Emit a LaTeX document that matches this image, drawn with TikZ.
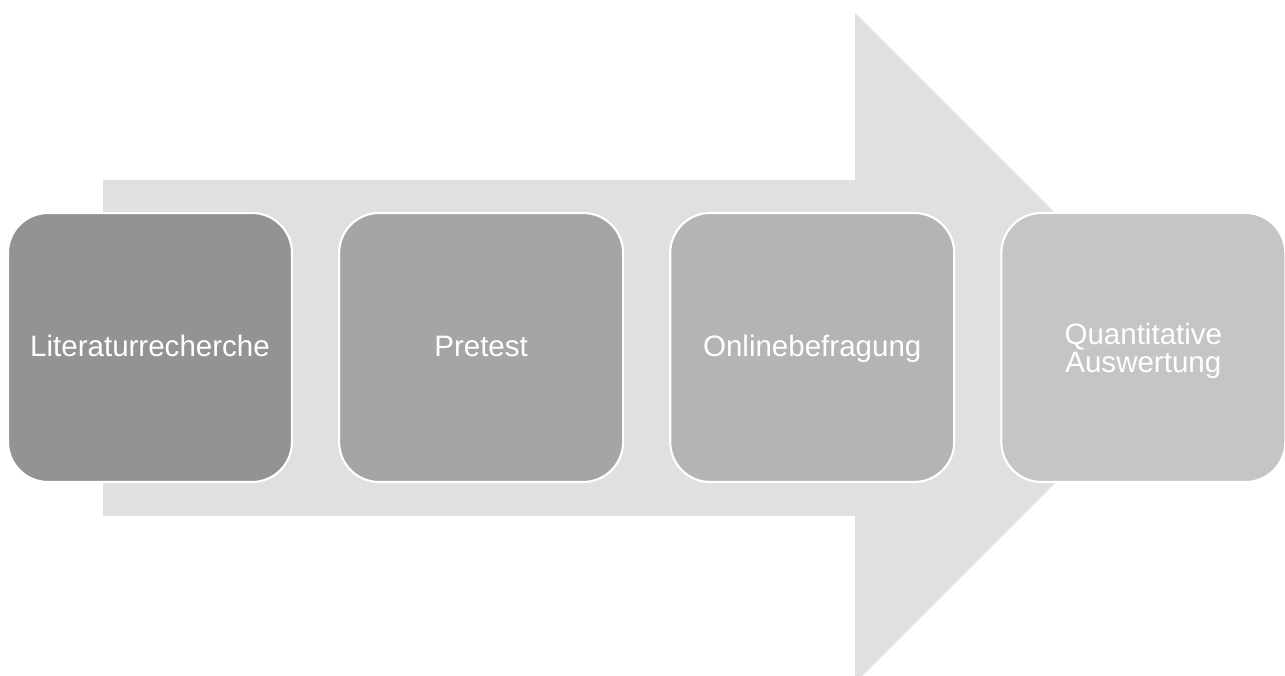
\documentclass[tikz,border=0pt]{standalone}
\usepackage{fontspec}
\setmainfont{Liberation Sans}
\usepackage{tikz}
\usetikzlibrary{positioning}

\definecolor{arrowgray}{HTML}{E0E0E0}
\definecolor{stepA}{HTML}{939393}
\definecolor{stepB}{HTML}{A5A5A5}
\definecolor{stepC}{HTML}{B4B4B4}
\definecolor{stepD}{HTML}{C5C5C5}

\begin{document}
\begin{tikzpicture}[
    stepbox/.style={rectangle, draw=white, line width=1.2pt, rounded corners=0.8cm,
                    minimum width=5.68cm, minimum height=5.38cm, text=white, align=center,
                    text height=14.3pt, text depth=3.5pt,
                    font=\fontsize{16.8}{16}\selectfont},
    node distance=0.9cm
]

    % Frame
    \clip (0, 0) rectangle (25.7, 13.52);
    \fill[white] (0, 0) rectangle (25.7, 13.52);

    % Big background arrow
    \fill[arrowgray] (2.06, 3.20) -- (17.1, 3.20) -- (17.1, -0.14) -- (23.8, 6.56)
        -- (17.1, 13.26) -- (17.1, 9.92) -- (2.06, 9.92) -- cycle;

    % === Steps ===
    \node[stepbox, fill=stepA] (lit) at (3.0, 6.57) {Literaturrecherche};
    \node[stepbox, fill=stepB, right=of lit] (pre) {Pretest};
    \node[stepbox, fill=stepC, right=of pre] (onl) {Onlinebefragung};
    \node[stepbox, fill=stepD, text height={}, text depth=-2.5pt, right=of onl] (aus)
        {Quantitative\\Auswertung};

\end{tikzpicture}
\end{document}
